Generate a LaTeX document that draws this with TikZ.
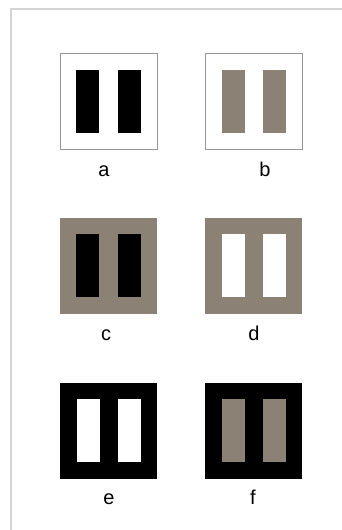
\documentclass[tikz,border=0pt]{standalone}
\usepackage{fontspec}
\setmainfont{Liberation Sans}
\usepackage{xcolor}
\usetikzlibrary{positioning}
\definecolor{taupe}{RGB}{139,129,116}
\definecolor{framegray}{RGB}{212,212,212}
\definecolor{edgegray}{RGB}{150,150,150}

\begin{document}
\begin{tikzpicture}[x=1pt, y=-1pt,
    panel/.style={minimum width=97pt, minimum height=96pt, inner sep=0pt, outer sep=0pt},
    bar/.style={minimum width=23pt, minimum height=63pt, inner sep=0pt, outer sep=0pt},
    tag/.style={font=\fontsize{20}{22}\selectfont, inner sep=0pt},
]
\useasboundingbox[fill=white] (0,0) rectangle (342,530);

% ---------- outer frame ----------
\coordinate (ftop) at (342,9);
\coordinate (fcorner) at (11,9);
\coordinate (fbottom) at (11,530);
\draw[framegray, line width=1.6pt] (ftop) -- (fcorner) -- (fbottom);

% ---------- row 1: white surround ----------
\node[panel, draw=edgegray, line width=0.7pt, fill=white] (pa) at (108.5,101) {};
\node[bar, fill=black, xshift=-21pt] (a1) at (pa) {};
\node[bar, fill=black, xshift=20.5pt] (a2) at (pa) {};

\node[panel, draw=edgegray, line width=0.7pt, fill=white] (pb) at (253.5,101) {};
\node[bar, fill=taupe, xshift=-20pt] (b1) at (pb) {};
\node[bar, fill=taupe, xshift=21pt] (b2) at (pb) {};

\node[tag, anchor=base] (la) at (104,176) {a};
\node[tag, anchor=base] (lb) at (265,176) {b};

% ---------- row 2: gray surround ----------
\node[panel, fill=taupe] (pc) at (108.5,265.5) {};
\node[bar, fill=black, xshift=-21pt] (c1) at (pc) {};
\node[bar, fill=black, xshift=20.5pt] (c2) at (pc) {};

\node[panel, fill=taupe] (pd) at (253.5,265.5) {};
\node[bar, fill=white, xshift=-20pt] (d1) at (pd) {};
\node[bar, fill=white, xshift=21pt] (d2) at (pd) {};

\node[tag, anchor=base] (lc) at (106,340) {c};
\node[tag, anchor=base] (ld) at (254,340) {d};

% ---------- row 3: black surround ----------
\node[panel, fill=black] (pe) at (108.5,430.5) {};
\node[bar, fill=white, xshift=-20.5pt] (e1) at (pe) {};
\node[bar, fill=white, xshift=20.5pt] (e2) at (pe) {};

\node[panel, fill=black] (pf) at (253.5,430.5) {};
\node[bar, fill=taupe, xshift=-20pt] (f1) at (pf) {};
\node[bar, fill=taupe, xshift=21pt] (f2) at (pf) {};

\node[tag, anchor=base] (le) at (109,504) {e};
\node[tag, anchor=base] (lf) at (253,504) {f};

\end{tikzpicture}
\end{document}
